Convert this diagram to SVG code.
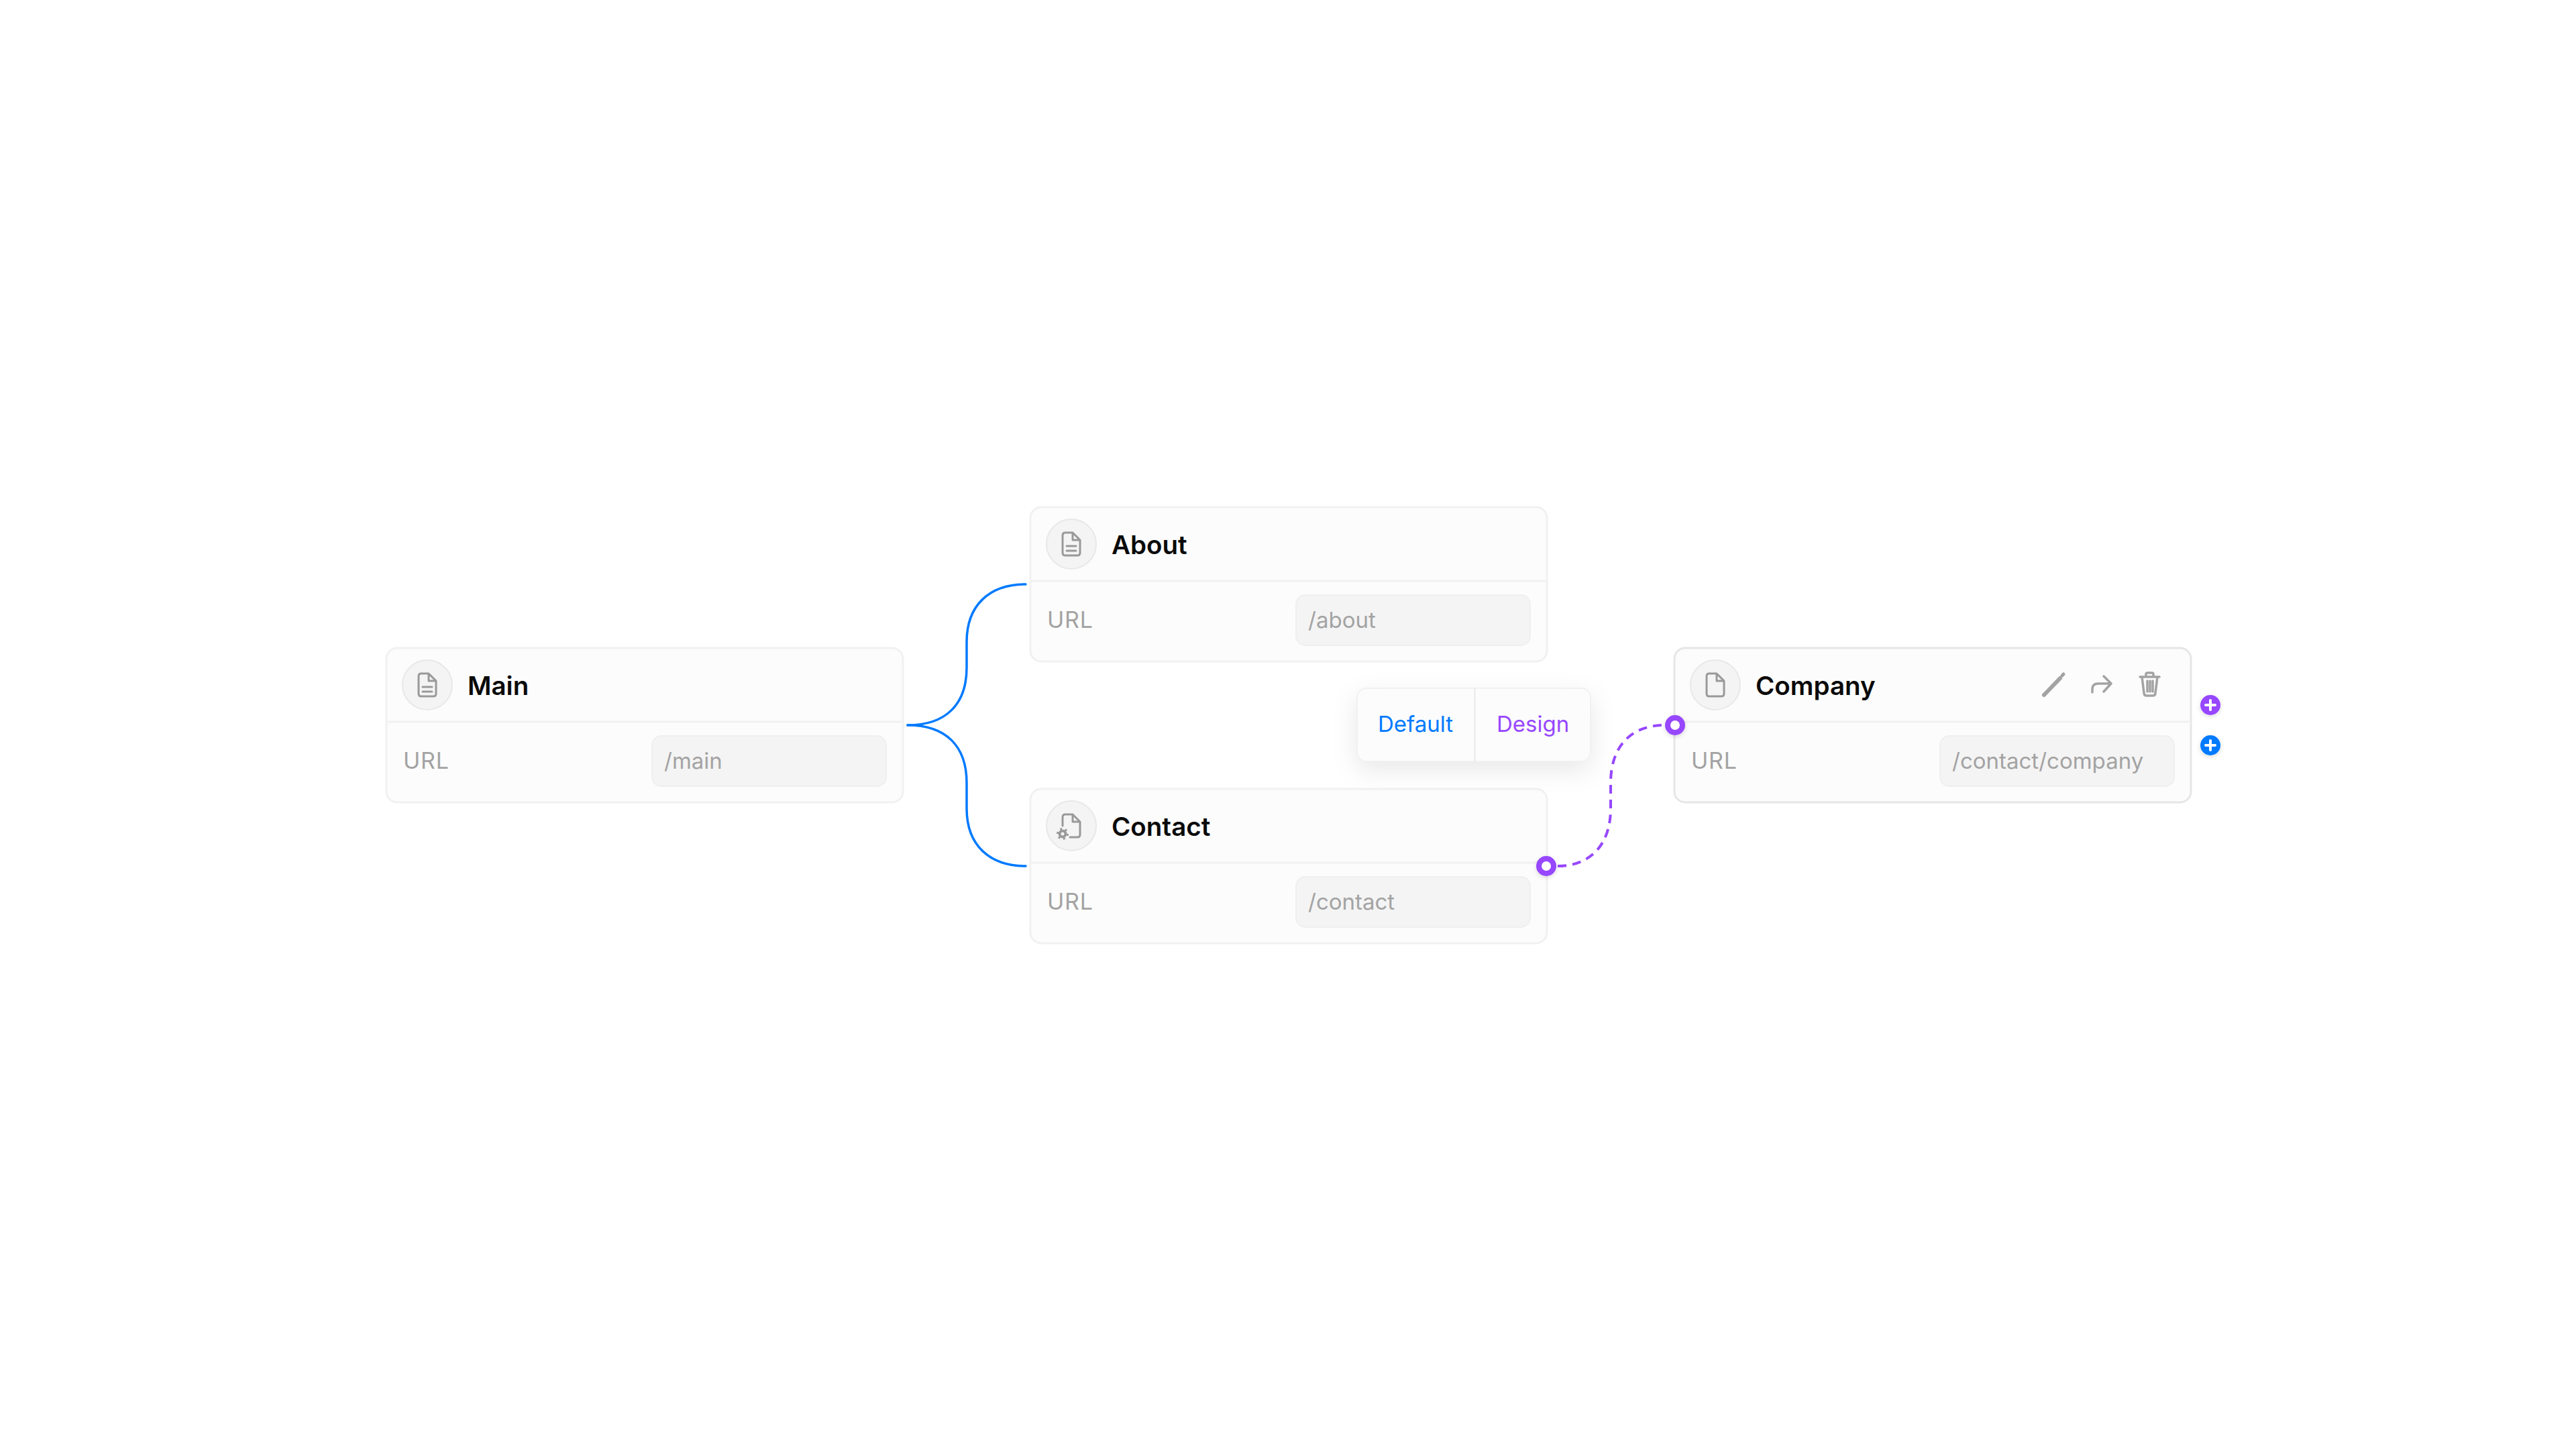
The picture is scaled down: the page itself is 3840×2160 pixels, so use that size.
<svg xmlns="http://www.w3.org/2000/svg" width="3840" height="2160" viewBox="0 0 3840 2160">
<style>
text{font-family:Inter,"Liberation Sans",sans-serif}
.card{fill:#fcfcfc;stroke:#f1f1f1;stroke-width:3}
.card2{fill:#fcfcfc;stroke:#e6e6e6;stroke-width:3}
.div{stroke:#f1f1f1;stroke-width:3;fill:none}
.input{fill:#f4f4f4;stroke:#efefef;stroke-width:2}
.badge{fill:#f4f4f4;stroke:#e8e8e8;stroke-width:2}
.title{font-size:38.500px;font-weight:600;fill:#0a0a0a}
.label{font-size:34px;fill:#a3a3a3;letter-spacing:.8px}
.val{font-size:33px;fill:#a3a3a3}
.ic{fill:none;stroke:#999;stroke-width:3;stroke-linejoin:round;stroke-linecap:round}
.ic2{fill:none;stroke:#a3a3a3;stroke-width:3.5;stroke-linejoin:round;stroke-linecap:round}
.tab{font-size:33px;font-weight:400}
.plus{stroke:#fff;stroke-width:4;stroke-linecap:round}
</style>
<defs>
<filter id="pop" x="-30%" y="-50%" width="160%" height="220%"><feDropShadow dx="0" dy="12" stdDeviation="18" flood-color="#000" flood-opacity="0.09"/></filter>
<filter id="dot" x="-50%" y="-50%" width="200%" height="200%"><feDropShadow dx="0" dy="2" stdDeviation="3" flood-color="#000" flood-opacity="0.15"/></filter>
<g id="doc"><path class="ic" d="M-9-17H2L13-6V13Q13 17 9 17H-9Q-13 17-13 13V-13Q-13-17-9-17ZM2-17V-6H13"/></g>
<g id="doclines"><path class="ic" d="M-7 3H7M-7 10H7"/></g>
</defs>

<g id="connectors" fill="none">
<path stroke="#007aff" stroke-width="3.500" stroke-linecap="round" d="M1353 1081C1410 1081 1441 1050 1441 995V957C1441 902 1475 871 1529 871"/>
<path stroke="#007aff" stroke-width="3.500" stroke-linecap="round" d="M1353 1081C1410 1081 1441 1112 1441 1167V1205C1441 1260 1475 1291 1529 1291"/>
<path stroke="#9747ff" stroke-width="4" stroke-dasharray="13 9" d="M2322 1291C2370 1291 2401 1260 2401 1205V1167C2401 1112 2432 1081 2481 1081"/>
</g>

<g id="node-main">
<rect class="card" x="576" y="966" width="770" height="230" rx="16"/>
<path class="div" d="M576 1076H1346"/>
<circle class="badge" cx="637" cy="1021" r="37"/>
<use href="#doc" x="637" y="1021"/><use href="#doclines" x="637" y="1021"/>
<text class="title" x="697" y="1036">Main</text>
<text class="label" x="601" y="1146">URL</text>
<rect class="input" x="972" y="1097" width="349" height="75" rx="14"/>
<text class="val" x="990" y="1146">/main</text>
</g>

<g id="node-about">
<rect class="card" x="1536" y="756" width="770" height="230" rx="16"/>
<path class="div" d="M1536 866H2306"/>
<circle class="badge" cx="1597" cy="811" r="37"/>
<use href="#doc" x="1597" y="811"/><use href="#doclines" x="1597" y="811"/>
<text class="title" x="1657" y="826">About</text>
<text class="label" x="1561" y="936">URL</text>
<rect class="input" x="1932" y="887" width="349" height="75" rx="14"/>
<text class="val" x="1950" y="936">/about</text>
</g>

<g id="node-contact">
<rect class="card" x="1536" y="1176" width="770" height="230" rx="16"/>
<path class="div" d="M1536 1286H2306"/>
<circle class="badge" cx="1597" cy="1231" r="37"/>
<path class="ic" d="M1584 1231V1218Q1584 1214 1588 1214H1599L1610 1225V1244Q1610 1248 1606 1248H1595M1599 1214V1225H1610"/>
<circle cx="1584" cy="1243" r="4.500" fill="none" stroke="#999" stroke-width="4"/>
<circle cx="1584" cy="1243" r="7.500" fill="none" stroke="#999" stroke-width="3" stroke-dasharray="3 4.800"/>
<text class="title" x="1657" y="1246">Contact</text>
<text class="label" x="1561" y="1356">URL</text>
<rect class="input" x="1932" y="1307" width="349" height="75" rx="14"/>
<text class="val" x="1950" y="1356">/contact</text>
</g>

<g id="node-company">
<rect class="card2" x="2496" y="966" width="770" height="230" rx="16"/>
<path class="div" d="M2496 1076H3266"/>
<circle class="badge" cx="2557" cy="1021" r="37"/>
<use href="#doc" x="2557" y="1021"/>
<text class="title" x="2617" y="1036">Company</text>
<path d="M3047 1036L3071 1011" stroke="#a3a3a3" stroke-width="6" stroke-linecap="round" fill="none"/>
<path d="M3074 1007L3076 1005" stroke="#a3a3a3" stroke-width="5" stroke-linecap="round" fill="none"/>
<path class="ic2" d="M3119 1032V1027Q3119 1019 3128 1019H3147M3136 1008L3147 1019L3136 1031"/>
<path class="ic2" stroke-width="3" d="M3190 1009H3219M3193 1009L3196 1033Q3196 1037 3200 1037H3209Q3213 1037 3213 1033L3216 1009M3199 1009V1005Q3199 1003 3201 1003H3208Q3210 1003 3210 1005V1009M3201 1015V1031M3205 1015V1031M3209 1015V1031"/>
<text class="label" x="2521" y="1146">URL</text>
<rect class="input" x="2892" y="1097" width="349" height="75" rx="14"/>
<text class="val" x="2910" y="1146">/contact/company</text>
</g>

<g id="popup">
<rect x="2023" y="1026" width="348" height="109" rx="14" fill="#fcfcfc" stroke="#f1f1f1" stroke-width="2" filter="url(#pop)"/>
<path d="M2198.500 1026V1135" stroke="#e8e8e8" stroke-width="2" fill="none"/>
<text class="tab" x="2054" y="1091" fill="#007aff">Default</text>
<text class="tab" x="2231" y="1091" fill="#9747ff">Design</text>
</g>

<g id="handles">
<circle cx="2305" cy="1291" r="11" fill="#fff" stroke="#9747ff" stroke-width="8" filter="url(#dot)"/>
<circle cx="2497" cy="1081" r="11" fill="#fff" stroke="#9747ff" stroke-width="8" filter="url(#dot)"/>
<g id="add-design"><circle cx="3295" cy="1051" r="15" fill="#9747ff" filter="url(#dot)"/><path class="plus" d="M3288 1051H3302M3295 1044V1058"/></g>
<g id="add-default"><circle cx="3295" cy="1111" r="15" fill="#007aff" filter="url(#dot)"/><path class="plus" d="M3288 1111H3302M3295 1104V1118"/></g>
</g>
</svg>
